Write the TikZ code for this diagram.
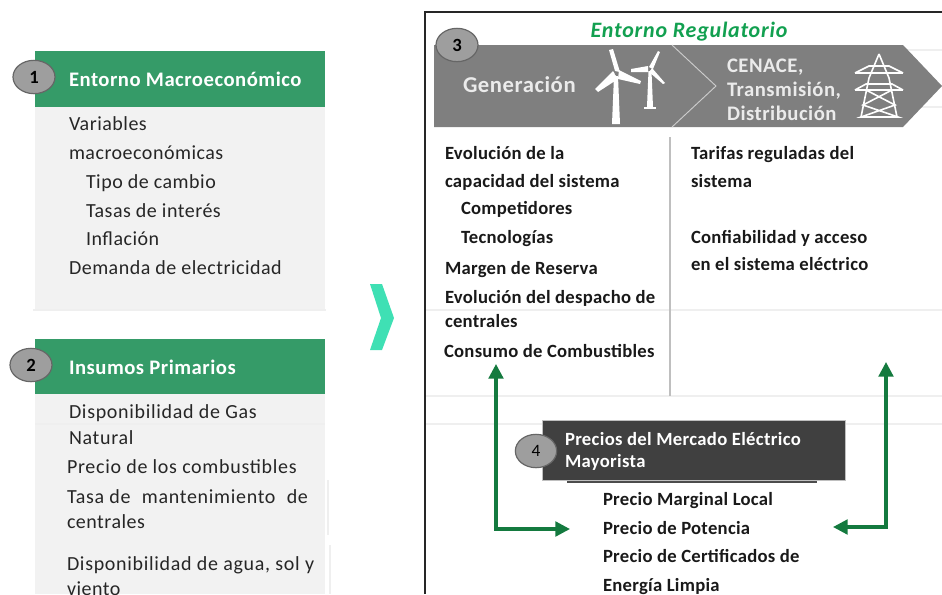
\documentclass[tikz,border=0pt]{standalone}
\usepackage{fontspec}
\setmainfont{Carlito}
\usetikzlibrary{arrows.meta,shapes.geometric}
\definecolor{hgreen}{HTML}{359B68}
\definecolor{panel}{HTML}{F2F2F2}
\definecolor{bannergrey}{HTML}{7F7F7F}
\definecolor{darkbox}{HTML}{404040}
\definecolor{arrowgreen}{HTML}{147A3F}
\definecolor{titlegreen}{HTML}{12A050}
\definecolor{mint}{HTML}{3FE0B4}
\definecolor{rule}{HTML}{EFEFEF}
\definecolor{txt}{HTML}{262626}
\newcommand{\ls}[1]{\addfontfeature{LetterSpace=#1}}
\tikzset{
  every node/.style={inner sep=0pt,outer sep=0pt},
  item/.style={anchor=base west,text=txt,font=\fontsize{15}{17}\selectfont\ls{2.5}},
  itemwide/.style={anchor=base west,text=txt,font=\fontsize{15}{17}\selectfont\ls{3.5}},
  bolditem/.style={anchor=base west,text=black!90,font=\fontsize{14}{16}\selectfont\bfseries\ls{1.5}},
  headtext/.style={anchor=base west,text=white,font=\fontsize{15.5}{17}\selectfont\bfseries\ls{2.5}},
  pricetext/.style={anchor=base west,text=white,font=\fontsize{14}{16}\selectfont\bfseries\ls{1.75}},
  bantext/.style={anchor=base west,text=white!92!black,font=\fontsize{15.5}{17}\selectfont\bfseries\ls{2.5}},
  numcircle/.style={draw=black!60,line width=0.9pt,fill=black!38,ellipse,minimum width=31.5pt,minimum height=25pt,font=\fontsize{14}{16}\selectfont\bfseries},
  lightline/.style={draw=rule,line width=0.8pt},
  garrow/.style={draw=arrowgreen,line width=2.4pt,{Triangle[length=11pt,width=11pt]}-{Triangle[length=11pt,width=11pt]}},
  icon/.style={fill=white,draw=none},
  iconline/.style={draw=white,line width=1.2pt},
}
\begin{document}
\begin{tikzpicture}[x=0.75pt,y=-0.75pt]
\useasboundingbox (0,0) rectangle (942,594);
\clip (0,0) rectangle (942,594);
% left panels
\fill[panel] (35,107) rectangle (325,309);
\draw[lightline] (33,310) -- (326,310);
\fill[hgreen] (35,51) rectangle (325,107);
\fill[panel] (35,394) rectangle (325,594);
\draw[lightline] (35,424) -- (325,424);
\draw[lightline] (328,480) -- (328,535);
\draw[lightline] (330,545) -- (330,594);
\fill[hgreen] (35,339) rectangle (325,394);
\node[numcircle] (n1) at (34,77) {1};
\node[numcircle] (n2) at (31,365) {2};
\node[headtext] (h1) at (69,86) {Entorno Macroeconómico};
\node[headtext] (h2) at (69,374) {Insumos Primarios};
\node[item] (a1) at (69,130) {Variables};
\node[item] (a2) at (69,159) {macroeconómicas};
\node[item] (a3) at (86,188) {Tipo de cambio};
\node[item] (a4) at (86,217) {Tasas de interés};
\node[item] (a5) at (86,245) {Inflación};
\node[item] (a6) at (69,274) {Demanda de electricidad};
\node[itemwide] (b1) at (69,418) {Disponibilidad de Gas};
\node[itemwide] (b2) at (69,444) {Natural};
\node[itemwide] (b3) at (67,473) {Precio de los combustibles};
\node[itemwide] (b4) at (67,503) {Tasa de\hspace{0.3em} mantenimiento\hspace{0.3em} de};
\node[item] (b5) at (67,528) {centrales};
\node[itemwide] (b6) at (67,570) {Disponibilidad de agua, sol y};
\node[item] (b7) at (67,595) {viento};
% chevron
\fill[mint] (370,284) -- (382,284) -- (394,318) -- (382,350) -- (370,350) -- (381,318) -- cycle;
% right frame
\draw[black!85,line width=1.2pt] (425,594) -- (425,12) -- (942,12);
\draw[lightline] (903,50) -- (942,50);
\draw[lightline] (903,107) -- (942,107);
\draw[lightline] (426,310) -- (942,310);
\draw[lightline] (426,396) -- (942,396);
\draw[lightline] (426,424) -- (942,424);
\draw[black!25,line width=1.2pt] (670,137) -- (670,396);
\node[anchor=base,text=titlegreen,font=\fontsize{16.5}{18}\selectfont\bfseries\itshape\ls{3.5}] (title) at (689,37) {Entorno Regulatorio};
% banner
\fill[bannergrey] (434,45) -- (903,45) -- (942,86) -- (903,127) -- (434,127) -- cycle;
\draw[white!80!black,line width=0.7pt] (672,45) -- (716,86) -- (672,127);
\node[numcircle] (n3) at (457,45) {3};
\node[bantext,font=\fontsize{17}{19}\selectfont\bfseries\ls{2.5}] (g) at (463,92) {Generación};
\node[bantext] (c1) at (727,72) {CENACE,};
\node[bantext] (c2) at (727,96) {Transmisión,};
\node[bantext] (c3) at (727,120) {Distribución};
% turbines
\begin{scope}[shift={(616,74)}]
\fill[icon] (-2,2) -- (2,2) -- (4,50) -- (-4,50) -- cycle;
\fill[icon] (-1,-3) -- (-7,-24) -- (-3,-25) -- (4,-2) -- cycle;
\fill[icon] (3,-4) -- (25,7) -- (24,10) -- (2,5) -- cycle;
\fill[icon] (-3,-3) -- (-21,15) -- (-18,18) -- (2,5) -- cycle;
\fill[bannergrey] (0,0) circle (1.5);
\end{scope}
\begin{scope}[shift={(650,69)}]
\fill[icon] (-1.5,2) -- (1.5,2) -- (3,38) -- (-3,38) -- cycle;
\fill[icon] (-6,38) rectangle (6,40);
\fill[icon] (-1,-2) -- (8,-18) -- (10,-17) -- (3,0) -- cycle;
\fill[icon] (-2,-3) -- (-19,0) -- (-19,3) -- (-2,3) -- cycle;
\fill[icon] (2,-1) -- (15,14) -- (13,15) -- (-1,3) -- cycle;
\fill[bannergrey] (0,0) circle (1);
\end{scope}
% pylon
\draw[iconline] (879,54) -- (869,78) -- (861,117) (879,54) -- (889,78) -- (897,117);
\draw[iconline,line width=1.6pt] (855,73) -- (903,73) (855,90) -- (903,90);
\draw[iconline] (855,73) -- (869,66) -- (889,66) -- (903,73);
\draw[iconline] (855,90) -- (866,84) -- (892,84) -- (903,90);
\draw[iconline] (866,90) -- (895,105) -- (861,117) -- (898,117) -- (863,105) -- (892,90);
% right items
\node[bolditem] (r1) at (445,159) {Evolución de la};
\node[bolditem] (r2) at (445,187) {capacidad del sistema};
\node[bolditem] (r3) at (461,214) {Competidores};
\node[bolditem] (r4) at (461,243) {Tecnologías};
\node[bolditem] (r5) at (445,274) {Margen de Reserva};
\node[bolditem] (r6) at (445,303) {Evolución del despacho de};
\node[bolditem] (r7) at (445,327) {centrales};
\node[bolditem] (r8) at (444,357) {Consumo de Combustibles};
\node[bolditem] (s1) at (691,159) {Tarifas reguladas del};
\node[bolditem] (s2) at (691,187) {sistema};
\node[bolditem] (s3) at (691,243) {Confiabilidad y acceso};
\node[bolditem] (s4) at (691,270) {en el sistema eléctrico};
% box 4
\draw[black!70,line width=0.8pt] (567,482) -- (817,482);
\fill[darkbox,draw=black!25,line width=0.7pt] (542,420) rectangle (845,480);
\node[numcircle,minimum width=31pt,font=\fontsize{13}{15}\selectfont] (n4) at (536,451) {4};
\node[pricetext] (p1) at (565,445) {Precios del Mercado Eléctrico};
\node[pricetext] (p2) at (565,467) {Mayorista};
\node[bolditem] (m1) at (603,505) {Precio Marginal Local};
\node[bolditem] (m2) at (603,534) {Precio de Potencia};
\node[bolditem] (m3) at (603,562) {Precio de Certificados de};
\node[bolditem] (m4) at (603,591) {Energía Limpia};
% arrows
\coordinate (la) at (496,364);
\coordinate (lb) at (570,529);
\coordinate (ra) at (886,362);
\coordinate (rb) at (833,527);
\draw[garrow] (la) |- (lb);
\draw[garrow] (ra) |- (rb);
\end{tikzpicture}
\end{document}
